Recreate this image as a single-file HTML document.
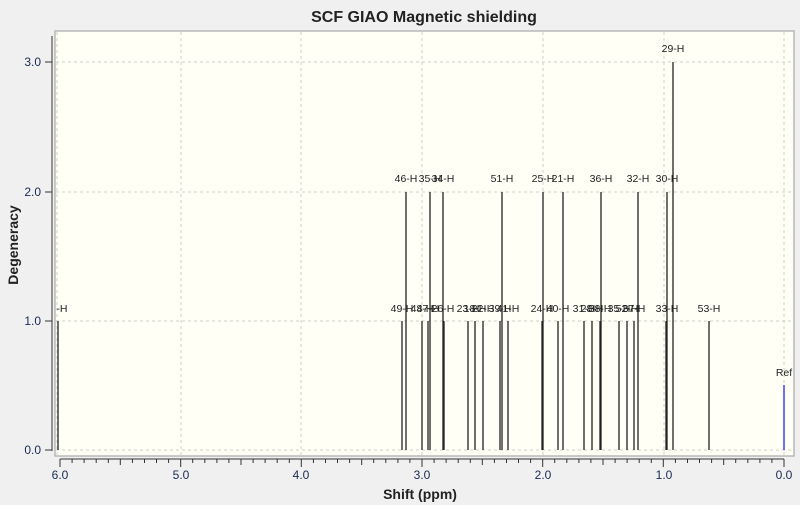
<!DOCTYPE html>
<html><head><style>body{margin:0;background:#f0f0f0}svg{display:block}</style></head><body>
<svg width="800" height="505" xmlns="http://www.w3.org/2000/svg" font-family="Liberation Sans, sans-serif">
<defs><clipPath id="pc"><rect x="56" y="31" width="738" height="425"/></clipPath></defs>
<rect width="800" height="505" fill="#f0f0f0"/>
<rect x="55" y="31" width="739" height="425" fill="#fffff6" stroke="#b8b8b8" stroke-width="1.5"/>
<g stroke="#cfcfcf" stroke-dasharray="3,3" stroke-width="1">
<line x1="56" y1="62" x2="793" y2="62"/><line x1="56" y1="192" x2="793" y2="192"/><line x1="56" y1="321" x2="793" y2="321"/><line x1="56" y1="450" x2="793" y2="450"/>
<line x1="57" y1="32" x2="57" y2="455"/><line x1="181" y1="32" x2="181" y2="455"/><line x1="301" y1="32" x2="301" y2="455"/><line x1="422" y1="32" x2="422" y2="455"/><line x1="543" y1="32" x2="543" y2="455"/><line x1="664" y1="32" x2="664" y2="455"/><line x1="784" y1="32" x2="784" y2="455"/>
</g>
<text x="424" y="22" font-size="16" font-weight="bold" text-anchor="middle" fill="#222">SCF GIAO Magnetic shielding</text>
<line x1="52" y1="36" x2="52" y2="451" stroke="#333"/>
<g stroke="#333"><line x1="45" y1="62" x2="52" y2="62"/><line x1="45" y1="192" x2="52" y2="192"/><line x1="45" y1="321" x2="52" y2="321"/><line x1="45" y1="450" x2="52" y2="450"/></g>
<g font-size="12" fill="#1a2a50" text-anchor="end"><text x="41" y="66">3.0</text><text x="41" y="196">2.0</text><text x="41" y="325">1.0</text><text x="41" y="454">0.0</text></g>
<line x1="60" y1="459" x2="784" y2="459" stroke="#333"/>
<g stroke="#333">
<line x1="784" y1="459" x2="784" y2="467"/><line x1="771.9" y1="459" x2="771.9" y2="463"/><line x1="759.9" y1="459" x2="759.9" y2="463"/><line x1="747.8" y1="459" x2="747.8" y2="463"/><line x1="735.7" y1="459" x2="735.7" y2="463"/><line x1="723.7" y1="459" x2="723.7" y2="465"/><line x1="711.6" y1="459" x2="711.6" y2="463"/><line x1="699.5" y1="459" x2="699.5" y2="463"/><line x1="687.5" y1="459" x2="687.5" y2="463"/><line x1="675.4" y1="459" x2="675.4" y2="463"/>
<line x1="663.3" y1="459" x2="663.3" y2="467"/><line x1="651.3" y1="459" x2="651.3" y2="463"/><line x1="639.2" y1="459" x2="639.2" y2="463"/><line x1="627.1" y1="459" x2="627.1" y2="463"/><line x1="615.1" y1="459" x2="615.1" y2="463"/><line x1="603" y1="459" x2="603" y2="465"/><line x1="590.9" y1="459" x2="590.9" y2="463"/><line x1="578.9" y1="459" x2="578.9" y2="463"/><line x1="566.8" y1="459" x2="566.8" y2="463"/><line x1="554.7" y1="459" x2="554.7" y2="463"/>
<line x1="542.7" y1="459" x2="542.7" y2="467"/><line x1="530.6" y1="459" x2="530.6" y2="463"/><line x1="518.5" y1="459" x2="518.5" y2="463"/><line x1="506.5" y1="459" x2="506.5" y2="463"/><line x1="494.4" y1="459" x2="494.4" y2="463"/><line x1="482.3" y1="459" x2="482.3" y2="465"/><line x1="470.3" y1="459" x2="470.3" y2="463"/><line x1="458.2" y1="459" x2="458.2" y2="463"/><line x1="446.1" y1="459" x2="446.1" y2="463"/><line x1="434.1" y1="459" x2="434.1" y2="463"/>
<line x1="422" y1="459" x2="422" y2="467"/><line x1="409.9" y1="459" x2="409.9" y2="463"/><line x1="397.9" y1="459" x2="397.9" y2="463"/><line x1="385.8" y1="459" x2="385.8" y2="463"/><line x1="373.7" y1="459" x2="373.7" y2="463"/><line x1="361.7" y1="459" x2="361.7" y2="465"/><line x1="349.6" y1="459" x2="349.6" y2="463"/><line x1="337.5" y1="459" x2="337.5" y2="463"/><line x1="325.5" y1="459" x2="325.5" y2="463"/><line x1="313.4" y1="459" x2="313.4" y2="463"/>
<line x1="301.3" y1="459" x2="301.3" y2="467"/><line x1="289.3" y1="459" x2="289.3" y2="463"/><line x1="277.2" y1="459" x2="277.2" y2="463"/><line x1="265.1" y1="459" x2="265.1" y2="463"/><line x1="253.1" y1="459" x2="253.1" y2="463"/><line x1="241" y1="459" x2="241" y2="465"/><line x1="228.9" y1="459" x2="228.9" y2="463"/><line x1="216.9" y1="459" x2="216.9" y2="463"/><line x1="204.8" y1="459" x2="204.8" y2="463"/><line x1="192.7" y1="459" x2="192.7" y2="463"/>
<line x1="180.7" y1="459" x2="180.7" y2="467"/><line x1="168.6" y1="459" x2="168.6" y2="463"/><line x1="156.5" y1="459" x2="156.5" y2="463"/><line x1="144.5" y1="459" x2="144.5" y2="463"/><line x1="132.4" y1="459" x2="132.4" y2="463"/><line x1="120.3" y1="459" x2="120.3" y2="465"/><line x1="108.3" y1="459" x2="108.3" y2="463"/><line x1="96.2" y1="459" x2="96.2" y2="463"/><line x1="84.1" y1="459" x2="84.1" y2="463"/><line x1="72.1" y1="459" x2="72.1" y2="463"/>
<line x1="60" y1="459" x2="60" y2="467"/>
</g>
<g font-size="12" fill="#1a2a50" text-anchor="middle"><text x="60" y="479">6.0</text><text x="181" y="479">5.0</text><text x="301" y="479">4.0</text><text x="422" y="479">3.0</text><text x="543" y="479">2.0</text><text x="664" y="479">1.0</text><text x="784" y="479">0.0</text></g>
<text x="420" y="499" font-size="14" font-weight="bold" text-anchor="middle" fill="#222">Shift (ppm)</text>
<text transform="translate(18,245) rotate(-90)" font-size="14" font-weight="bold" text-anchor="middle" fill="#222">Degeneracy</text>
<g stroke="#222" stroke-width="1.3">
<line x1="58" y1="450" x2="58" y2="321"/>
<line x1="402" y1="450" x2="402" y2="321"/><line x1="406" y1="450" x2="406" y2="192"/><line x1="422" y1="450" x2="422" y2="321"/><line x1="428" y1="450" x2="428" y2="321"/><line x1="430" y1="450" x2="430" y2="192"/><line x1="443" y1="450" x2="443" y2="192"/><line x1="444" y1="450" x2="444" y2="321"/>
<line x1="468" y1="450" x2="468" y2="321"/><line x1="475" y1="450" x2="475" y2="321"/><line x1="483" y1="450" x2="483" y2="321"/><line x1="500" y1="450" x2="500" y2="321"/><line x1="502" y1="450" x2="502" y2="192"/><line x1="508" y1="450" x2="508" y2="321"/>
<line x1="542" y1="450" x2="542" y2="321"/><line x1="543" y1="450" x2="543" y2="192"/><line x1="558" y1="450" x2="558" y2="321"/><line x1="563" y1="450" x2="563" y2="192"/>
<line x1="584" y1="450" x2="584" y2="321"/><line x1="592" y1="450" x2="592" y2="321"/><line x1="600" y1="450" x2="600" y2="321"/><line x1="601" y1="450" x2="601" y2="192"/>
<line x1="619" y1="450" x2="619" y2="321"/><line x1="627" y1="450" x2="627" y2="321"/><line x1="634" y1="450" x2="634" y2="321"/><line x1="638" y1="450" x2="638" y2="192"/>
<line x1="666" y1="450" x2="666" y2="321"/><line x1="667" y1="450" x2="667" y2="192"/><line x1="673" y1="450" x2="673" y2="62"/><line x1="709" y1="450" x2="709" y2="321"/>
</g>
<line x1="784" y1="450" x2="784" y2="385" stroke="#2020ff" stroke-width="1.3"/>
<g font-size="10.5" fill="#222" text-anchor="middle" clip-path="url(#pc)">
<text x="59" y="312">3-H</text>
<text x="402" y="312">49-H</text><text x="422" y="312">48-H</text><text x="428" y="312">47-H</text><text x="443" y="312">26-H</text><text x="468" y="312">23-H</text><text x="475" y="312">18-H</text><text x="483" y="312">22-H</text><text x="500" y="312">39-H</text><text x="508" y="312">41-H</text><text x="542" y="312">24-H</text><text x="558" y="312">40-H</text><text x="584" y="312">31-H</text><text x="592" y="312">28-H</text><text x="600" y="312">38-H</text><text x="619" y="312">35-H</text><text x="627" y="312">52-H</text><text x="634" y="312">37-H</text><text x="667" y="312">33-H</text><text x="709" y="312">53-H</text>
<text x="406" y="182">46-H</text><text x="430" y="182">35-H</text><text x="443" y="182">34-H</text><text x="502" y="182">51-H</text><text x="543" y="182">25-H</text><text x="563" y="182">21-H</text><text x="601" y="182">36-H</text><text x="638" y="182">32-H</text><text x="667" y="182">30-H</text>
<text x="673" y="52">29-H</text><text x="784" y="376">Ref</text>
</g>
</svg>
</body></html>
